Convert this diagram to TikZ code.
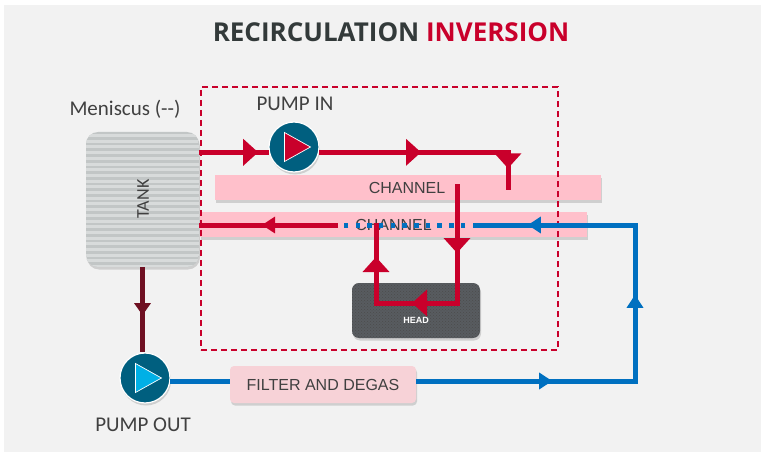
\documentclass[tikz,border=0pt]{standalone}
\usepackage{fontspec}
\setmainfont{Carlito}
\newfontfamily\channelfont{Liberation Sans}
\newfontfamily\titlefont{Open Sans}
\usetikzlibrary{arrows.meta, shapes.geometric, shadows, patterns, decorations.markings}
\definecolor{fPanel}{HTML}{F2F2F2}
\definecolor{fInk}{HTML}{404040}
\definecolor{fDark}{HTML}{333A3A}
\definecolor{fRed}{HTML}{C9002B}
\definecolor{fBlue}{HTML}{0070C0}
\definecolor{fBrown}{HTML}{6F1022}
\definecolor{fTeal}{HTML}{005F7F}
\definecolor{fCyan}{HTML}{00B0E6}
\definecolor{fPink}{HTML}{FFC0CB}
\definecolor{fRose}{HTML}{F7D2D7}
\definecolor{fSlate}{HTML}{585C60}
\definecolor{fSteel}{HTML}{C2C6C6}
\definecolor{fSilver}{HTML}{D8DBDB}
\tikzstyle{fShadow} = [drop shadow={shadow xshift=1pt, shadow yshift=-2.5pt, opacity=0.3}]
\tikzstyle{fTank} = [rectangle, rounded corners=12pt, minimum width=113pt, minimum height=135pt, inner sep=0pt, fill=fSteel, fShadow, path picture={\foreach \i in {0,...,24} {\fill [fSilver, sharp corners] ([yshift=-5.7*\i*1pt-2pt]path picture bounding box.north west) rectangle ([yshift=-5.7*\i*1pt-5pt]path picture bounding box.north east);}}]
\tikzstyle{fPump} = [circle, minimum size=50pt, inner sep=0pt, draw=white, line width=1.2pt, fill=fTeal, fShadow]
\tikzstyle{fTip} = [isosceles triangle, isosceles triangle stretches=true, minimum width=29pt, minimum height=26pt, inner sep=0pt, draw=white, line width=0.7pt]
\tikzstyle{fChannel} = [rectangle, minimum height=25pt, inner sep=0pt, fill=fPink, text=fInk, font=\channelfont\fontsize{16}{16}\selectfont, fShadow]
\tikzstyle{fHead} = [rectangle, rounded corners=7pt, minimum width=128pt, minimum height=55pt, inner sep=0pt, fill=fSlate, postaction={pattern=crosshatch dots, pattern color=black!70}, fShadow]
\tikzstyle{fFilter} = [rectangle, rounded corners=4pt, minimum width=186pt, minimum height=37pt, inner sep=0pt, fill=fRose, text=fInk, font=\channelfont\fontsize{16}{16}\selectfont, fShadow]
\tikzstyle{fZone} = [rectangle, minimum width=357pt, minimum height=263pt, draw=fRed, line width=2pt, dash pattern=on 6pt off 4pt]
\tikzstyle{fLabel} = [text=fInk, inner sep=0pt, font=\fontsize{21}{21}\selectfont]
\tikzstyle{fRedLine} = [line width=5pt, draw=fRed]
\tikzstyle{fBlueLine} = [line width=5pt, draw=fBlue]
\tikzset{
    fTipBig/.style={postaction={decorate, decoration={markings, mark=at position #1 with {\arrow[fill=fRed, draw=none]{Triangle[length=15pt, width=26pt]}}}}},
    fTipSmall/.style 2 args={postaction={decorate, decoration={markings, mark=at position #1 with {\arrow[fill=#2, draw=none]{Triangle[length=13pt, width=16pt]}}}}}
}
\begin{document}
\begin{tikzpicture}[x=1pt, y=-1pt, node distance=100pt]
    \useasboundingbox (0,0) rectangle (764,452);
    \fill [white] (0,0) rectangle (764,452);
    \node (panel) [rectangle, fill=fPanel, minimum width=757pt, minimum height=448pt, inner sep=0pt] at (382.5,229) {};
    \node (title) [text=fDark, font=\titlefont\bfseries\fontsize{26}{26}\selectfont] at (391,32) {RECIRCULATION \textcolor{fRed}{INVERSION}};

    \node (tank) [fTank] at (142.5,199.5) {};
    \node (tankText) [text=fInk, rotate=90, inner sep=0pt, font=\fontsize{18}{18}\selectfont] at (143,199) {TANK};
    \node (meniscus) [fLabel, above of=tank, xshift=-17.5pt, yshift=-9.5pt] {Meniscus (-{}-)};
    \node (pumpIn) [fPump, right of=tank, xshift=51.5pt, yshift=52.5pt] {};
    \node (pumpInTip) [fTip, fill=fRed, right of=pumpIn, xshift=-101pt] {};
    \node (pumpInText) [fLabel, above of=pumpIn, xshift=1pt, yshift=-57pt] {PUMP IN};
    \node (pumpOut) [fPump, below of=tank, xshift=2.5pt, yshift=-78.5pt] {};
    \node (pumpOutTip) [fTip, fill=fCyan, right of=pumpOut, xshift=-101pt] {};
    \node (pumpOutText) [fLabel, below of=pumpOut, xshift=-2pt, yshift=53pt] {PUMP OUT};
    \node (chanIn) [fChannel, minimum width=386pt, right of=pumpIn, xshift=14pt, yshift=-40.5pt] {\hspace*{-2pt}CHANNEL};
    \node (chanOut) [fChannel, minimum width=387pt, below of=chanIn, xshift=-14.5pt, yshift=63pt] {CHANNEL};
    \node (head) [fHead, below of=chanOut, xshift=22.5pt, yshift=14pt] {};
    \node (headText) [text=white, inner sep=0pt, font=\channelfont\bfseries\fontsize{9}{9}\selectfont, below of=head, yshift=90.5pt] {HEAD};
    \node (filter) [fFilter, right of=pumpOut, xshift=78pt, yshift=-6.5pt] {FILTER AND DEGAS};
    \node (zone) [fZone, right of=chanOut, xshift=-114pt, yshift=6pt] {};

    \coordinate (inDrop) at (508,190);
    \coordinate (headIn) at (457,184);
    \coordinate (headBase) at (376,303);
    \coordinate (headOut) at (376,223);
    \coordinate (blueCorner) at (635,381);
    \coordinate (blueEnd) at (477,225);
    \coordinate (redStart) at (338,225);

    \draw [fRedLine, fTipBig=59pt] (tank.east |- pumpIn.192) -- (pumpIn.192);
    \draw [fRedLine, fTipBig=102pt, fTipBig=205pt] (pumpIn.-12) -| (inDrop);
    \draw [fRedLine, fTipBig=69pt, fTipBig=164pt, fTipBig=246pt] (headIn) |- (headBase) -- (headOut);
    \draw [fRedLine, fTipSmall={76pt}{fRed}] (redStart) -- (tank.east |- redStart);
    \draw [fBlueLine, dash pattern=on 4.5pt off 7.2pt] (blueEnd) -- (redStart);
    \draw [fBlueLine] (pumpOut.-7) -- (filter.west |- pumpOut.-7);
    \draw [fBlueLine, fTipSmall={136pt}{fBlue}, fTipSmall={305pt}{fBlue}, fTipSmall={482pt}{fBlue}] (filter.east |- blueCorner) -- (blueCorner) |- (blueEnd);
    \draw [line width=5pt, draw=fBrown, postaction={decorate, decoration={markings, mark=at position 48pt with {\arrow[fill=fBrown, draw=none]{Triangle[length=12pt, width=16pt]}}}}] (tank.south) -- (tank.south |- pumpOut.north);
\end{tikzpicture}
\end{document}
